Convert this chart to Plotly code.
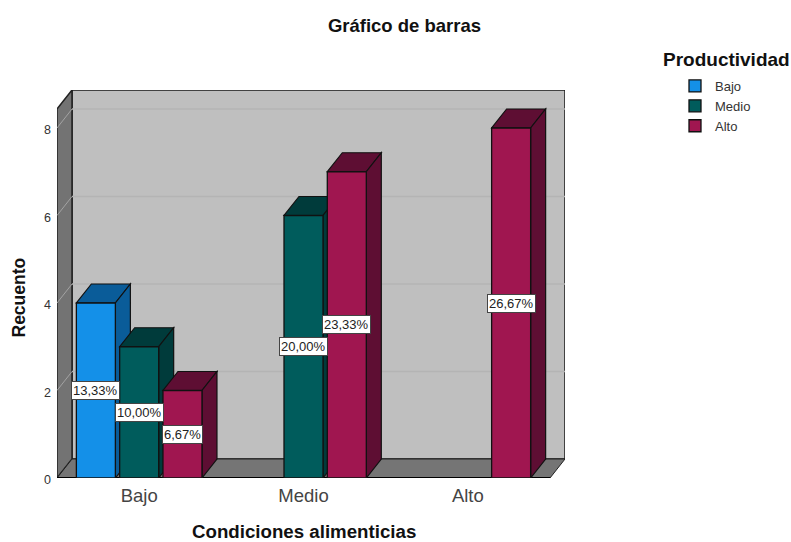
import plotly.graph_objects as go

categorias = ["Bajo", "Medio", "Alto"]
series = ["Bajo", "Medio", "Alto"]

# recuento por condicion alimenticia (Bajo, Medio, Alto) para cada productividad
valores_bajo = [4, 0, 0]
valores_medio = [3, 6, 0]
valores_alto = [2, 7, 8]

etiquetas_bajo = ["13,33%", None, None]
etiquetas_medio = ["10,00%", "20,00%", None]
etiquetas_alto = ["6,67%", "23,33%", "26,67%"]

ticks_y = [0, 2, 4, 6, 8]

colores = ["#1490E8", "#005C5C", "#A01650"]
colores_lado = ["#0A5C99", "#003B3B", "#5E0E33"]

FUENTE = "Liberation Sans, Arial, sans-serif"
ANCHO, ALTO = 791, 542
L, R, T, B = 57, 565, 90, 478  # area del grafico en pixeles

# escalas: 164.33 px por categoria, 43.75 px por unidad
X_MIN, X_MAX_FRENTE = -0.5, 2.5
PROF_X = 15 / 164.33
PROF_Y = 19 / 43.75
Y_FRENTE = 8 + PROF_Y
ANCHO_BARRA = 39 / 164.33
PASO = 43.3 / 164.33


def poly(puntos, fill, line="#222222", width=1, layer="below"):
    path = "M " + " L ".join(f"{x},{y}" for x, y in puntos) + " Z"
    return dict(type="path", path=path, xref="x", yref="y", fillcolor=fill,
                line=dict(color=line, width=width), layer=layer)


def linea(x0, y0, x1, y1, color, width=1):
    return dict(type="line", x0=x0, y0=y0, x1=x1, y1=y1, xref="x", yref="y",
                line=dict(color=color, width=width), layer="below")


fig = go.Figure()
shapes = []

# paredes y piso
x_der = X_MAX_FRENTE + PROF_X
y_arriba = Y_FRENTE + PROF_Y
x_fondo = X_MIN + PROF_X
shapes.append(poly([(x_fondo, PROF_Y), (x_der, PROF_Y), (x_der, y_arriba), (x_fondo, y_arriba)], "#BFBFBF", "#1A1A1A", 1.5))
shapes.append(poly([(X_MIN, 0), (x_fondo, PROF_Y), (x_fondo, y_arriba), (X_MIN, Y_FRENTE)], "#737373", "#222222", 1.5))
shapes.append(poly([(X_MIN, 0), (X_MAX_FRENTE, 0), (x_der, PROF_Y), (x_fondo, PROF_Y)], "#757575", "#222222", 1))

# lineas de cuadricula
for t in ticks_y[1:]:
    shapes.append(linea(X_MIN, t, x_fondo, t + PROF_Y, "#A3A3A3"))
    shapes.append(linea(x_fondo, t + PROF_Y, x_der, t + PROF_Y, "#B4B4B4", 1.5))
shapes.append(linea(X_MIN, 0, X_MAX_FRENTE, 0, "#000000", 2))

datos = [valores_bajo, valores_medio, valores_alto]
etiquetas = [etiquetas_bajo, etiquetas_medio, etiquetas_alto]
anotaciones = []

for s, nombre in enumerate(series):
    xs, ys = [], []
    for c in range(len(categorias)):
        v = datos[s][c]
        xc = c + (s - 1) * PASO
        if v > 0:
            xs.append(xc)
            ys.append(v)
            x0, x1 = xc - ANCHO_BARRA / 2, xc + ANCHO_BARRA / 2
            # cara superior y cara lateral
            shapes.append(poly([(x0, v), (x1, v), (x1 + PROF_X, v + PROF_Y), (x0 + PROF_X, v + PROF_Y)], colores_lado[s], "#111111", 1.2))
            shapes.append(poly([(x1, 0), (x1 + PROF_X, PROF_Y), (x1 + PROF_X, v + PROF_Y), (x1, v)], colores_lado[s], "#111111", 1.2))
            anotaciones.append(dict(x=xc, y=v / 2, text=etiquetas[s][c], showarrow=False,
                                    bgcolor="white", bordercolor="#444444", borderwidth=1, borderpad=1,
                                    font=dict(family=FUENTE, size=13, color="#222222")))
    fig.add_trace(go.Bar(x=xs, y=ys, name=nombre, width=ANCHO_BARRA,
                         marker=dict(color=colores[s], line=dict(color="#111111", width=1.3))))

# textos que van centrados sobre el plano frontal, no sobre el area total
anotaciones += [
    dict(x=1, y=0, yshift=-53, text="Condiciones alimenticias", showarrow=False, xanchor="center",
         font=dict(family=FUENTE, size=18.7, color="#111111", weight="bold")),
    dict(xref="paper", x=(18 - L) / (R - L), y=(B - 297.5) / 43.75, text="Recuento", showarrow=False, textangle=-90,
         xanchor="center", yanchor="middle",
         font=dict(family=FUENTE, size=17.5, color="#111111", weight="bold")),
    dict(xref="paper", yref="paper", x=(726 - L) / (R - L), y=(B - 59) / (B - T), text="Productividad",
         showarrow=False, xanchor="center", yanchor="middle",
         font=dict(family=FUENTE, size=19, color="#111111", weight="bold")),
]

fig.update_layout(
    width=ANCHO,
    height=ALTO,
    margin=dict(l=L, r=ANCHO - R, t=T, b=ALTO - B, pad=0),
    paper_bgcolor="white",
    plot_bgcolor="white",
    barmode="overlay",
    showlegend=True,
    title=dict(text="<b>Gráfico de barras</b>", x=404.5 / ANCHO, xanchor="center", y=1 - 26 / ALTO, yanchor="middle",
               font=dict(family=FUENTE, size=18.5, color="#111111")),
    legend=dict(x=(675 - L) / (R - L), y=(B - 71) / (B - T), xanchor="left", yanchor="top",
                font=dict(family=FUENTE, size=13, color="#333333"), bgcolor="rgba(0,0,0,0)"),
    xaxis=dict(range=[X_MIN, x_der], tickvals=[0, 1, 2], ticktext=categorias, showgrid=False, zeroline=False,
               showline=False, ticks="", ticklabelstandoff=4, tickfont=dict(family=FUENTE, size=18.5, color="#444444")),
    yaxis=dict(range=[0, y_arriba], tickvals=ticks_y, showgrid=False, zeroline=False,
               showline=False, ticks="", ticklabelstandoff=5, ticklabelshift=2,
               tickfont=dict(family=FUENTE, size=12.5, color="#333333")),
    shapes=shapes,
    annotations=anotaciones,
)

fig.write_html("out.html", config={"displayModeBar": False}, post_script="document.body.style.margin='0';")
